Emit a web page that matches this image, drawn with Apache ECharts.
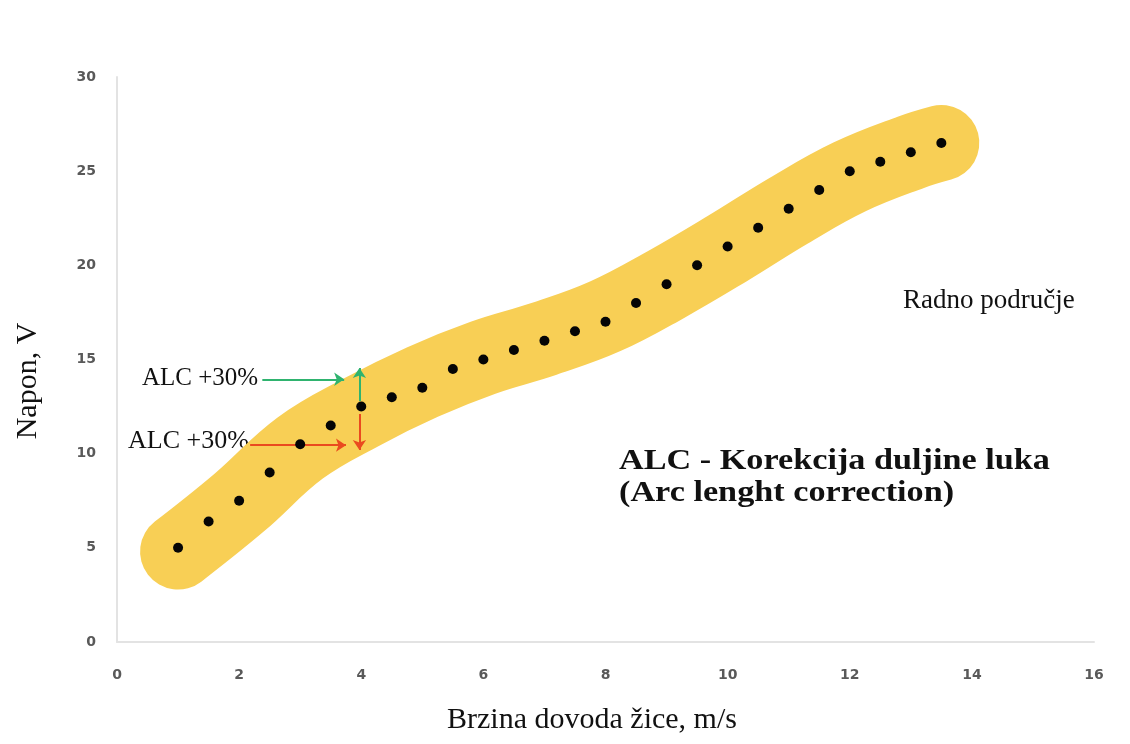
<!DOCTYPE html>
<html><head><meta charset="utf-8">
<script src="https://cdn.jsdelivr.net/npm/echarts@6/dist/echarts.min.js"></script>
<style>html,body{margin:0;padding:0;background:#fff}#c{width:1130px;height:744px}</style>
</head><body><div id="c"></div>
<script>
// Data: wire feed speed (m/s) vs voltage (V)
const speed = [1, 1.5, 2, 2.5, 3, 3.5, 4, 4.5, 5, 5.5, 6, 6.5, 7, 7.5, 8, 8.5, 9, 9.5, 10, 10.5, 11, 11.5, 12, 12.5, 13, 13.5];
const voltage = [5, 6.4, 7.5, 9, 10.5, 11.5, 12.5, 13, 13.5, 14.5, 15, 15.5, 16, 16.5, 17, 18, 19, 20, 21, 22, 23, 24, 25, 25.5, 26, 26.5];
// Working-area band centre line
const bandSpeed = [1, 2, 3, 4, 5, 6, 7, 8, 9, 10, 11, 12, 13, 13.5];
const bandVoltage = [4.8, 7.4, 10.3, 12.2, 13.8, 15.1, 16.1, 17.3, 19.0, 20.9, 22.9, 24.7, 26.0, 26.5];
// ALC arrows (data coordinates)
const greenArrows = [[[2.38, 13.95], [3.72, 13.95]], [[3.97, 12.8], [3.97, 14.55]]];
const redArrows = [[[2.18, 10.45], [3.75, 10.45]], [[3.97, 12.1], [3.97, 10.2]]];
const xTickInterval = 2, yTickInterval = 5;

const serif = '"Liberation Serif", "Times New Roman", serif';
const chart = echarts.init(document.getElementById('c'));
const axisLabel = { fontFamily: '"DejaVu Sans", sans-serif', fontWeight: 'bold', fontSize: 14, color: '#595959' };
chart.setOption({
  animation: false,
  backgroundColor: '#ffffff',
  grid: { left: 117, right: 36, top: 77, bottom: 102 },
  xAxis: {
    type: 'value', min: 0, max: 16, interval: xTickInterval,
    axisLine: { show: true, lineStyle: { color: '#e3e3e3', width: 2 } },
    axisTick: { show: false }, splitLine: { show: false },
    axisLabel: Object.assign({ margin: 26 }, axisLabel)
  },
  yAxis: {
    type: 'value', min: 0, max: 30, interval: yTickInterval,
    axisLine: { show: true, lineStyle: { color: '#e3e3e3', width: 2 } },
    axisTick: { show: false }, splitLine: { show: false },
    axisLabel: Object.assign({ margin: 21 }, axisLabel)
  },
  series: [
    {
      type: 'line', smooth: 0.4, showSymbol: false, silent: true, z: 1,
      data: bandSpeed.map((x, i) => [x, bandVoltage[i]]),
      lineStyle: { color: '#f8cf55', width: 76, cap: 'round', join: 'round' }
    },
    {
      type: 'lines', coordinateSystem: 'cartesian2d', z: 3, silent: true,
      symbol: ['none', 'arrow'], symbolSize: 10,
      lineStyle: { width: 2, opacity: 1 },
      data: greenArrows.map(c => ({ coords: c, lineStyle: { color: '#2fb36f', width: 2 } }))
        .concat(redArrows.map(c => ({ coords: c, lineStyle: { color: '#ea4a1f', width: 2 } })))
    },
    {
      type: 'scatter', z: 5, symbolSize: 10,
      itemStyle: { color: '#050505', opacity: 1 },
      data: speed.map((x, i) => [x, voltage[i]])
    }
  ],
  graphic: [
    { type: 'text', x: 28, y: 381, rotation: Math.PI / 2, style: { text: 'Napon, V', font: '30px ' + serif, fill: '#111', textAlign: 'center', textVerticalAlign: 'middle' } },
    { type: 'text', x: 592, y: 720, style: { text: 'Brzina dovoda žice, m/s', font: '30px ' + serif, fill: '#111', textAlign: 'center', textVerticalAlign: 'middle' } },
    { type: 'text', x: 142, y: 378, style: { text: 'ALC +30%', font: '25px ' + serif, fill: '#111', textAlign: 'left', textVerticalAlign: 'middle' } },
    { type: 'text', x: 128, y: 441, style: { text: 'ALC +30%', font: '26px ' + serif, fill: '#111', textAlign: 'left', textVerticalAlign: 'middle' } },
    { type: 'text', x: 903, y: 301, style: { text: 'Radno područje', font: '27px ' + serif, fill: '#111', textAlign: 'left', textVerticalAlign: 'middle' } },
    { type: 'text', x: 619, y: 462, scaleX: 1.18, style: { text: 'ALC - Korekcija duljine luka', font: 'bold 29px ' + serif, fill: '#111', textAlign: 'left', textVerticalAlign: 'middle' } },
    { type: 'text', x: 619, y: 494, scaleX: 1.18, style: { text: '(Arc lenght correction)', font: 'bold 29px ' + serif, fill: '#111', textAlign: 'left', textVerticalAlign: 'middle' } }
  ]
});
</script>
</body></html>
